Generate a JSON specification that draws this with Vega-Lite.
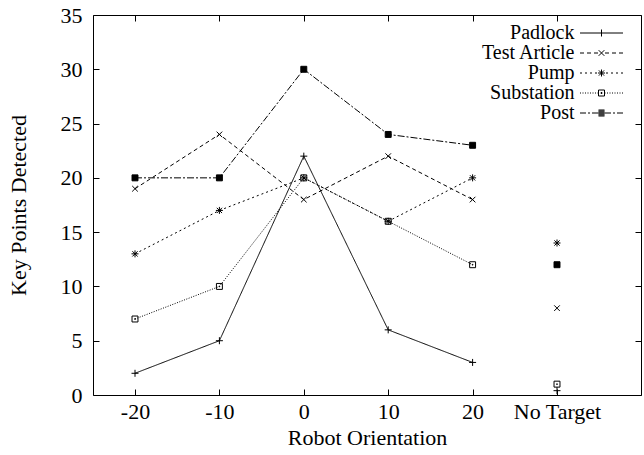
{
  "$schema": "https://vega.github.io/schema/vega-lite/v6.json",
  "width": 548,
  "height": 380,
  "autosize": "none",
  "padding": {"left": 93, "top": 15, "right": 3, "bottom": 60},
  "background": "white",
  "config": {
    "view": {"stroke": "black", "strokeWidth": 1},
    "font": "Liberation Serif",
    "axis": {
      "labelFont": "Liberation Serif",
      "titleFont": "Liberation Serif",
      "labelFontSize": 22,
      "titleFontSize": 22,
      "titleFontWeight": "normal",
      "labelColor": "black",
      "titleColor": "black",
      "tickColor": "black",
      "tickWidth": 1,
      "tickSize": -6,
      "domain": false,
      "grid": false
    },
    "legend": {"labelFont": "Liberation Serif", "labelFontSize": 20, "labelColor": "black", "padding": 0}
  },
  "data": {
    "values": [
      {"series": "Padlock", "orientation": "-20", "points": 2},
      {"series": "Padlock", "orientation": "-10", "points": 5},
      {"series": "Padlock", "orientation": "0", "points": 22},
      {"series": "Padlock", "orientation": "10", "points": 6},
      {"series": "Padlock", "orientation": "20", "points": 3},
      {"series": "Padlock", "orientation": "No Target", "points": 0.4},
      {"series": "Test Article", "orientation": "-20", "points": 19},
      {"series": "Test Article", "orientation": "-10", "points": 24},
      {"series": "Test Article", "orientation": "0", "points": 18},
      {"series": "Test Article", "orientation": "10", "points": 22},
      {"series": "Test Article", "orientation": "20", "points": 18},
      {"series": "Test Article", "orientation": "No Target", "points": 8},
      {"series": "Pump", "orientation": "-20", "points": 13},
      {"series": "Pump", "orientation": "-10", "points": 17},
      {"series": "Pump", "orientation": "0", "points": 20},
      {"series": "Pump", "orientation": "10", "points": 16},
      {"series": "Pump", "orientation": "20", "points": 20},
      {"series": "Pump", "orientation": "No Target", "points": 14},
      {"series": "Substation", "orientation": "-20", "points": 7},
      {"series": "Substation", "orientation": "-10", "points": 10},
      {"series": "Substation", "orientation": "0", "points": 20},
      {"series": "Substation", "orientation": "10", "points": 16},
      {"series": "Substation", "orientation": "20", "points": 12},
      {"series": "Substation", "orientation": "No Target", "points": 1},
      {"series": "Post", "orientation": "-20", "points": 20},
      {"series": "Post", "orientation": "-10", "points": 20},
      {"series": "Post", "orientation": "0", "points": 30},
      {"series": "Post", "orientation": "10", "points": 24},
      {"series": "Post", "orientation": "20", "points": 23},
      {"series": "Post", "orientation": "No Target", "points": 12}
    ]
  },
  "layer": [
    {
      "transform": [{"filter": "datum.orientation !== 'No Target'"}],
      "mark": {"type": "line", "stroke": "black", "strokeWidth": 1},
      "encoding": {
        "x": {
          "field": "orientation",
          "type": "ordinal",
          "scale": {"type": "point", "domain": ["-20", "-10", "0", "10", "20", "No Target"], "range": [42, 464], "padding": 0},
          "axis": {"orient": "bottom", "title": "Robot Orientation", "labelAngle": 0, "labelPadding": 12, "titlePadding": 5, "titleX": 274}
        },
        "y": {
          "field": "points",
          "type": "quantitative",
          "scale": {"domain": [0, 35], "nice": false, "zero": true},
          "axis": {"orient": "left", "title": "Key Points Detected", "values": [0, 5, 10, 15, 20, 25, 30, 35], "labelPadding": 17, "titlePadding": 30}
        },
        "strokeDash": {
          "field": "series",
          "type": "nominal",
          "scale": {"domain": ["Padlock", "Test Article", "Pump", "Substation", "Post"], "range": [[1, 0], [4, 3], [2, 3], [1, 1.5], [7, 2, 2, 2]]},
          "legend": null
        },
        "order": {"value": null}
      }
    },
    {
      "mark": {"type": "point", "filled": false, "color": "black", "size": 49, "strokeWidth": 1, "opacity": 1},
      "encoding": {
        "x": {
          "field": "orientation",
          "type": "ordinal",
          "scale": {"type": "point", "domain": ["-20", "-10", "0", "10", "20", "No Target"], "range": [42, 464], "padding": 0},
          "axis": {"orient": "top", "labels": false, "title": null}
        },
        "y": {
          "field": "points",
          "type": "quantitative",
          "scale": {"domain": [0, 35], "nice": false},
          "axis": {"orient": "right", "labels": false, "title": null, "values": [0, 5, 10, 15, 20, 25, 30, 35]}
        },
        "shape": {
          "field": "series",
          "type": "nominal",
          "scale": {
            "domain": ["Padlock", "Test Article", "Pump", "Substation", "Post"],
            "range": [
              "M-1,0H1M0,-1V1",
              "M-0.8,-0.8L0.8,0.8M-0.8,0.8L0.8,-0.8",
              "M-1,0H1M0,-1V1M-0.75,-0.75L0.75,0.75M-0.75,0.75L0.75,-0.75",
              "M-0.85,-0.85H0.85V0.85H-0.85ZM-0.1,-0.1H0.1V0.1H-0.1Z",
              "M-0.85,-0.85H0.85V0.85H-0.85Z"
            ]
          },
          "legend": null
        },
        "fill": {
          "field": "series",
          "type": "nominal",
          "scale": {
            "domain": ["Padlock", "Test Article", "Pump", "Substation", "Post"],
            "range": ["transparent", "transparent", "transparent", "transparent", "black"]
          },
          "legend": null
        }
      }
    },
    {
      "mark": {"type": "point", "filled": false, "color": "black", "size": 4, "strokeWidth": 1, "opacity": 0},
      "encoding": {
        "x": {"field": "orientation", "type": "ordinal", "axis": null},
        "y": {"field": "points", "type": "quantitative", "axis": null},
        "shape": {
          "field": "series",
          "type": "nominal",
          "scale": {
            "domain": ["Padlock", "Test Article", "Pump", "Substation", "Post"],
            "range": [
              "M-21.5,0H21.5M0,-3.5V3.5",
              "M-21.5,0H-17.5M-14.5,0H-10.5M-7.5,0H-3.5M3.5,0H7.5M10.5,0H14.5M17.5,0H21.5M-2.8,-2.8L2.8,2.8M-2.8,2.8L2.8,-2.8",
              "M-21.5,0H-19.5M-16.5,0H-14.5M-11.5,0H-9.5M-6.5,0H-4.5M4.5,0H6.5M9.5,0H11.5M14.5,0H16.5M19.5,0H21.5M-3.5,0H3.5M0,-3.5V3.5M-2.6,-2.6L2.6,2.6M-2.6,2.6L2.6,-2.6",
              "M-21.5,0H-20.5M-19,0H-18M-16.5,0H-15.5M-14,0H-13M-11.5,0H-10.5M-9,0H-8M-6.5,0H-5.5M-4,0H-3M3,0H4M5.5,0H6.5M8,0H9M10.5,0H11.5M13,0H14M15.5,0H16.5M18,0H19M20.5,0H21.5M-3,-3H3V3H-3ZM-0.5,-0.5H0.5V0.5H-0.5Z",
              "M-21.5,0H-15.5M-13.5,0H-11.5M-9.5,0H-3M3,0H9.5M11.5,0H13.5M15.5,0H21.5M-3,-3H3M-3,-2H3M-3,-1H3M-3,0H3M-3,1H3M-3,2H3M-3,3H3"
            ]
          },
          "legend": {
            "title": null,
            "orient": "none",
            "legendX": 491.5,
            "legendY": 8,
            "symbolSize": 4,
            "symbolOffset": 7,
            "symbolStrokeWidth": 1,
            "symbolStrokeColor": "black",
            "symbolFillColor": "transparent",
            "symbolOpacity": 1,
            "labelAlign": "right",
            "labelOffset": -37,
            "rowPadding": 0,
            "encode": {
              "symbols": {
                "update": {
                  "stroke": {"value": "black"},
                  "opacity": {"value": 1},
                  "strokeOpacity": {"value": 1}
                }
              }
            }
          }
        }
      }
    }
  ],
  "resolve": {"scale": {"shape": "independent"}, "axis": {"x": "independent", "y": "independent"}}
}
